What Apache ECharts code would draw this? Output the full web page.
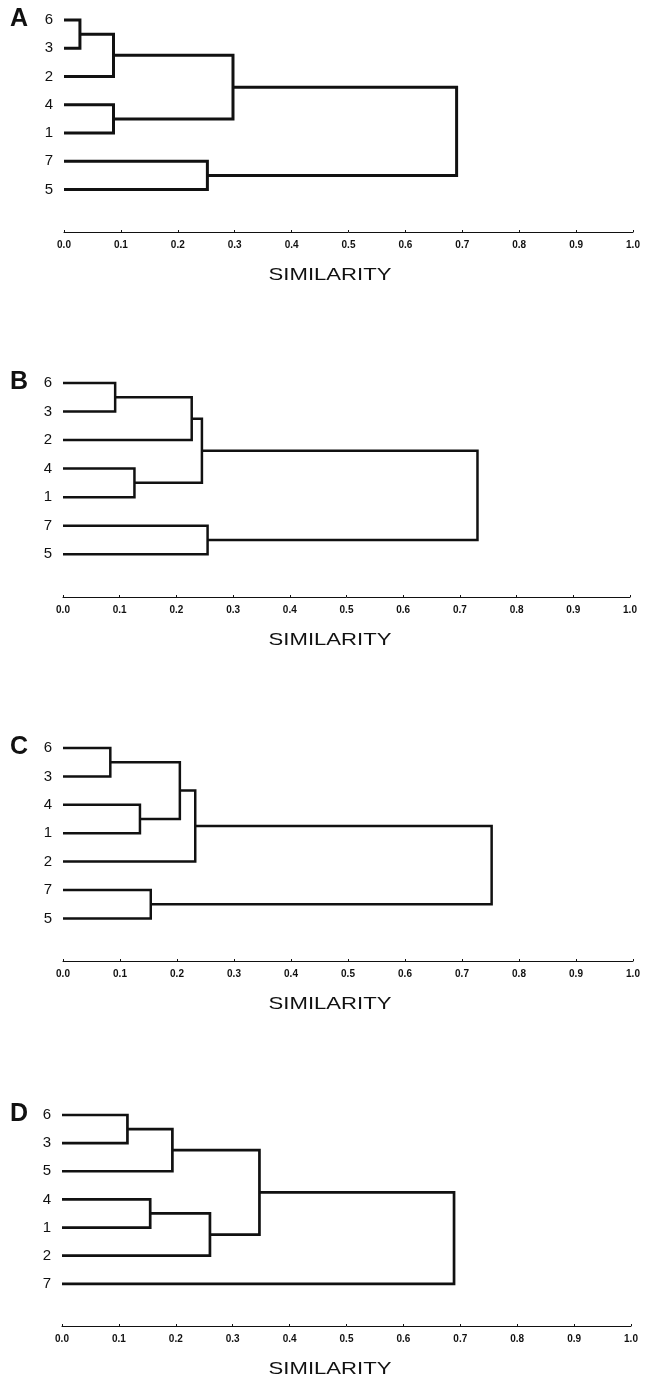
<!DOCTYPE html>
<html>
<head>
<meta charset="utf-8">
<title>Similarity dendrograms</title>
<script src="https://cdn.jsdelivr.net/npm/echarts@6/dist/echarts.min.js"></script>
<style>
  html, body { margin: 0; padding: 0; background: #fff; }
  #main { width: 646px; height: 1378px; }
</style>
</head>
<body>
<div id="main"></div>
<script>
  // leaf order (top to bottom) and merges [left, right, similarity] for each panel
  // a merged node is named by joining its children names
  var leavesA = ['6', '3', '2', '4', '1', '7', '5'];
  var mergesA = [['6', '3', 0.028], ['63', '2', 0.087], ['4', '1', 0.087], ['632', '41', 0.297], ['7', '5', 0.252], ['63241', '75', 0.690]];

  var leavesB = ['6', '3', '2', '4', '1', '7', '5'];
  var mergesB = [['6', '3', 0.092], ['63', '2', 0.227], ['4', '1', 0.126], ['632', '41', 0.245], ['7', '5', 0.255], ['63241', '75', 0.731]];

  var leavesC = ['6', '3', '4', '1', '2', '7', '5'];
  var mergesC = [['6', '3', 0.083], ['4', '1', 0.135], ['63', '41', 0.205], ['6341', '2', 0.232], ['7', '5', 0.154], ['63412', '75', 0.752]];

  var leavesD = ['6', '3', '5', '4', '1', '2', '7'];
  var mergesD = [['6', '3', 0.115], ['63', '5', 0.194], ['4', '1', 0.155], ['41', '2', 0.260], ['635', '412', 0.347], ['635412', '7', 0.689]];

  var axisTitle = 'SIMILARITY';

  // layout of each panel (pixels)
  var panels = [
    { name: 'A', leaves: leavesA, merges: mergesA, left: 64, right: 13, top: 20, height: 212, lineWidth: 3 },
    { name: 'B', leaves: leavesB, merges: mergesB, left: 63, right: 16, top: 383, height: 214, lineWidth: 2.5 },
    { name: 'C', leaves: leavesC, merges: mergesC, left: 63, right: 13, top: 748, height: 213, lineWidth: 2.5 },
    { name: 'D', leaves: leavesD, merges: mergesD, left: 62, right: 15, top: 1115, height: 211, lineWidth: 2.7 }
  ];

  var font = 'Liberation Sans, Arial, Helvetica, sans-serif';
  var ink = '#111';

  var grids = [], xAxes = [], yAxes = [], series = [], graphics = [];

  panels.forEach(function (p, i) {
    grids.push({ left: p.left, right: p.right, top: p.top, height: p.height, outerBoundsMode: 'none' });

    xAxes.push({
      gridIndex: i,
      type: 'value',
      position: 'bottom',
      min: 0,
      max: 1,
      interval: 0.1,
      axisLine: { show: true, onZero: false, lineStyle: { color: ink, width: 1 } },
      axisTick: { show: true, inside: true, length: 2, lineStyle: { color: ink } },
      splitLine: { show: false },
      axisLabel: {
        margin: 8,
        fontSize: 10,
        fontWeight: 'bold',
        fontFamily: font,
        color: ink,
        formatter: function (v) { return v.toFixed(1); }
      }
    });

    // leaves sit at integer positions 0..6, inverse so the first leaf is on top
    var leaves = p.leaves;
    yAxes.push({
      gridIndex: i,
      type: 'value',
      inverse: true,
      min: 0,
      max: 7.5,
      interval: 1,
      axisLine: { show: false },
      axisTick: { show: false },
      splitLine: { show: false },
      axisLabel: {
        margin: 11,
        fontSize: 15,
        fontFamily: font,
        color: ink,
        formatter: function (v) {
          return Number.isInteger(v) && leaves[v] !== undefined ? leaves[v] : '';
        }
      }
    });

    // node positions: leaves at similarity 0, merged nodes at the midpoint of their children
    var nodes = {};
    leaves.forEach(function (l, k) { nodes[l] = { x: 0, y: k }; });
    p.merges.forEach(function (m) {
      var a = nodes[m[0]], b = nodes[m[1]], h = m[2];
      nodes[m[0] + m[1]] = { x: h, y: (a.y + b.y) / 2 };
      series.push({
        type: 'line',
        xAxisIndex: i,
        yAxisIndex: i,
        data: [[a.x, a.y], [h, a.y], [h, b.y], [b.x, b.y]],
        symbol: 'none',
        clip: false,
        silent: true,
        animation: false,
        lineStyle: { color: ink, width: p.lineWidth, join: 'miter', cap: 'butt' }
      });
    });

    // panel letter and axis title
    graphics.push({
      type: 'text',
      x: 10,
      y: p.top - 1,
      style: { text: p.name, fontSize: 25, fontWeight: 'bold', fontFamily: font, fill: ink, align: 'left', verticalAlign: 'middle' }
    });
    graphics.push({
      type: 'text',
      x: 330,
      y: p.top + p.height + 43,
      scaleX: 1.3,
      style: { text: axisTitle, fontSize: 17, fontFamily: font, fill: ink, align: 'center', verticalAlign: 'middle' }
    });
  });

  var mainChart = echarts.init(document.getElementById('main'));
  var option = {
    backgroundColor: '#fff',
    animation: false,
    grid: grids,
    xAxis: xAxes,
    yAxis: yAxes,
    series: series,
    graphic: graphics
  };
  mainChart.setOption(option, true);
</script>
</body>
</html>
